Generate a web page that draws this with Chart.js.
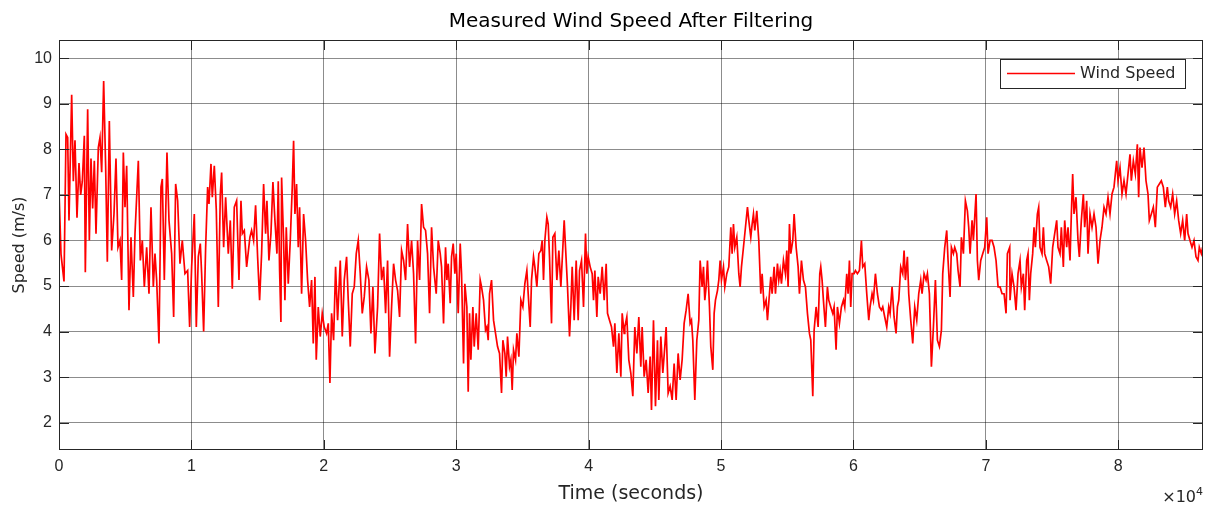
<!DOCTYPE html>
<html>
<head>
<meta charset="utf-8">
<title>Measured Wind Speed After Filtering</title>
<script src="https://cdn.jsdelivr.net/npm/chart.js@4/dist/chart.umd.min.js"></script>
<style>
  body { margin: 0; background: #ffffff; }
  #wrap { position: relative; width: 1211px; height: 506px; }
</style>
</head>
<body>
<div id="wrap"><canvas id="chart1"></canvas></div>
<script>
// time in seconds (x axis is shown in units of 10^4 s)
var timeSec = [
  0,151,378,529,654,755,957,1082,1208,1359,1510,1636,1762,1913,1988,2165,2291,2416,2542,2668,
  2794,2970,3096,3222,3373,3524,3650,3801,3977,4153,4304,4455,4606,4732,4858,4984,5110,5286,5437,5613,
  5739,5991,6142,6293,6444,6620,6796,6947,7123,7249,7375,7551,7702,7803,7954,8155,8306,8508,8659,8810,
  8961,9137,9313,9514,9716,9867,10018,10219,10370,10521,10672,10773,10924,11075,11226,11327,11478,11578,11729,11880,
  12031,12182,12283,12434,12585,12786,12937,13088,13239,13415,13592,13743,13844,13995,14171,14420,
  14546,14697,14848,15000,15150,15302,15453,15604,15704,15855,16006,16157,16308,16459,16560,16661,16761,16812,16963,17063,
  17164,17315,17466,17617,17718,17819,17944,18070,18171,18322,18473,18624,18775,18926,19077,19203,19329,19429,19580,19731,
  19882,20033,20210,20336,20461,20587,20738,20889,21040,21242,21393,21544,21720,21846,21997,22148,22299,22450,22601,22752,
  22903,23054,23230,23406,23557,23708,23859,24061,24212,24363,24514,24665,24816,24967,25118,25269,25420,25571,25722,25873,
  26024,26175,26326,26477,26628,26779,26930,27081,27232,27383,27534,27685,27836,27987,28138,28289,
  28489,28640,28791,28891,29042,29193,29294,29395,29546,29647,29772,29898,29999,30150,30301,30402,30553,30653,30804,30905,
  31006,31106,31257,31358,31509,31660,31811,31912,32063,32214,32315,32415,32516,32667,32818,32969,33120,33271,33422,33523,
  33674,33774,33875,34026,34127,34227,34328,34479,34580,34731,34882,35033,35184,35335,35436,35587,35687,35838,35939,36090,
  36241,36392,36493,36593,36694,36845,36946,37046,37198,37298,37449,37600,37751,37902,38053,38154,38255,38406,38557,38657,
  38758,38909,39060,39211,39312,39463,39614,39765,39866,39966,40117,40268,40369,40470,40621,40721,40872,41023,41174,41325,
  41426,41577,41728,41879,41980,42131,42282,42433,42534,42685,
  42733,42884,43035,43186,43337,43488,43639,43790,43941,44042,44193,44344,44495,44646,44747,44898,45049,45200,45300,45451,
  45602,45753,45854,46005,46156,46307,46458,46609,46760,46911,47062,47213,47364,47515,47666,47767,47868,48019,48170,48321,
  48421,48572,48673,48774,48874,48975,49126,49227,49378,49479,49579,49730,49831,49932,50032,50183,50284,50435,50586,50737,
  50838,50938,51039,51190,51341,51442,51543,51694,51845,51996,52096,52247,52348,52449,52549,52700,52851,53002,53103,53254,
  53405,53506,53657,53757,53858,54009,54110,54261,54362,54462,54563,54714,54865,54966,55066,55167,55268,55419,55520,55671,
  55822,55922,56073,56224,56375,56526,56677,56778,56929,57030,57181,57332,57457,
  57531,57632,57732,57883,58034,58135,58286,58437,58538,58689,58790,58941,59092,59243,59343,59494,59595,59696,59796,59897,
  60048,60149,60300,60451,60602,60702,60854,61005,61156,61256,61407,61508,61659,61810,61961,62112,62213,62364,62515,62666,
  62766,62917,63068,63219,63320,63421,63572,63723,63824,63924,64075,64176,64327,64478,64629,64780,64931,65082,65183,65334,
  65485,65585,65736,65888,66039,66190,66341,66492,66643,66743,66894,67045,67146,67297,67398,67549,67649,67800,67901,68052,
  68153,68304,68455,68606,68706,68807,68958,69059,69260,69361,69462,69613,69764,69915,70066,70166,70317,70468,70619,70770,
  70922,71073,71224,71375,71526,71626,71802,
  71826,71977,72128,72279,72430,72581,72682,72833,72933,73084,73185,73286,73386,73537,73638,73739,73890,73990,74091,74242,
  74343,74443,74594,74745,74896,75047,75199,75350,75450,75601,75702,75853,75954,76105,76205,76356,76457,76558,76658,76809,
  76960,77061,77212,77363,77464,77615,77716,77867,78018,78169,78320,78471,78622,78773,78924,79075,79226,79377,79528,79679,
  79779,79880,79981,80132,80283,80434,80585,80736,80887,80988,81139,81290,81441,81541,81642,81793,81944,82095,82246,82347,
  82498,82649,82800,82951,83102,83253,83404,83555,83706,83807,83958,84109,84260,84411,84562,84713,84864,85015,85166,85267,
  85418,85569,85720,85871,86022,86122,86273,86373
]

// wind speed in m/s at each of those times
var windSpeed = [
  7.1,5.7,5.1,8.33,8.26,6.44,9.2,7.3,8.2,6.5,7.7,7.0,7.3,8.3,5.3,8.88,6.0,7.8,6.7,7.75,
  6.15,8.04,8.26,7.5,9.5,7.6,5.53,8.62,5.78,6.58,7.8,5.85,6.0,5.13,7.93,6.73,7.64,4.47,6.07,4.76,
  6.15,7.75,5.56,6.0,4.98,5.85,4.83,6.73,4.98,5.71,5.13,3.74,7.17,7.35,5.13,7.93,6.44,5.71,4.32,7.24,
  6.87,5.49,6.0,5.27,5.34,4.1,5.42,6.58,4.1,5.64,5.93,5.27,4.0,5.85,7.17,6.8,7.68,6.95,7.64,6.66,
  4.54,7.0,7.49,5.85,6.95,5.71,6.44,4.94,6.73,6.87,5.13,6.87,6.15,6.22,5.42,6.07,
  6.22,6.0,6.77,5.64,4.69,5.71,7.24,6.15,6.87,5.56,6.15,7.28,6.44,5.71,7.3,5.34,4.21,7.38,6.0,4.69,
  6.29,5.05,6.0,7.17,8.19,6.58,7.24,5.85,6.73,4.83,6.58,6.0,5.13,4.54,5.13,3.74,5.2,3.38,4.54,3.89,
  4.4,4.1,3.96,4.18,2.87,4.4,3.81,5.42,4.25,5.56,3.89,5.13,5.64,4.69,3.67,4.83,4.98,5.71,6.0,5.27,
  4.4,4.76,5.42,5.13,3.96,4.98,3.52,4.54,6.15,5.13,5.42,4.4,5.56,3.45,4.54,5.49,5.13,4.9,4.32,5.78,
  5.56,5.13,6.36,5.42,6.0,5.27,3.74,6.0,5.13,6.8,6.29,6.22,5.71,4.4,6.29,5.42,
  4.83,6.0,5.71,5.42,4.18,5.85,5.13,5.49,4.62,5.64,5.93,5.27,5.71,4.4,5.93,5.27,3.3,5.05,4.54,2.68,
  4.4,3.38,4.54,3.67,4.4,3.6,5.13,4.98,4.69,4.03,4.1,3.81,4.83,5.13,4.25,3.96,3.67,3.52,2.65,3.81,
  3.52,3.01,3.89,3.23,3.38,2.72,3.6,3.38,3.96,3.45,4.69,4.54,5.05,5.34,4.83,4.1,5.13,5.64,5.42,4.98,
  5.71,5.78,6.0,5.13,6.0,6.51,6.36,5.64,4.18,6.07,6.15,5.13,5.78,4.98,5.85,6.44,5.85,4.98,3.89,4.54,
  5.42,4.25,5.56,4.25,5.34,5.56,4.54,6.15,5.27,5.64,5.42,5.27,4.69,5.34,4.32,5.2,4.83,5.42,4.69,5.49,
  4.4,4.25,4.1,3.67,4.18,3.09,3.96,3.01,4.4,3.96,
  4.1,4.32,3.38,3.09,2.58,4.1,3.52,4.32,3.23,4.1,3.01,3.38,2.65,3.45,2.28,4.25,2.36,3.81,2.5,3.89,
  3.09,3.67,4.1,2.65,2.8,2.5,3.3,2.5,3.52,2.94,3.38,4.18,4.47,4.83,4.18,4.25,3.81,2.5,3.81,4.25,
  5.56,4.98,5.42,4.69,4.98,5.56,4.54,3.67,3.16,4.4,4.69,4.9,5.13,5.56,5.13,5.42,4.98,5.27,5.42,6.29,
  5.71,6.36,5.85,6.07,5.27,4.98,5.42,5.85,6.29,6.73,6.44,6.07,6.36,6.58,6.22,6.65,6.0,4.83,5.27,4.54,
  4.69,4.25,4.83,5.2,4.83,5.42,4.83,5.49,5.13,5.34,5.05,5.56,5.27,5.78,4.98,6.36,5.71,6.0,6.58,5.85,
  5.42,4.83,5.56,5.13,4.98,4.4,3.96,3.81,2.58,4.03,4.54,4.1,5.27,
  5.42,5.13,4.69,4.1,4.98,4.69,4.54,4.4,4.54,3.6,4.54,4.18,4.54,4.69,4.54,5.27,4.83,5.56,4.54,5.27,
  5.27,5.34,5.27,5.34,6.0,5.42,5.49,4.83,4.25,4.54,4.83,4.69,5.27,4.83,4.54,4.47,4.54,4.32,4.1,4.54,
  4.4,4.98,4.32,3.96,4.54,4.69,5.42,5.27,5.78,5.13,5.64,4.83,4.25,3.74,4.54,4.25,4.83,5.13,4.83,5.27,
  5.13,5.27,4.83,3.23,4.1,5.13,3.81,3.67,4.03,5.27,5.85,6.22,5.56,4.76,5.85,5.71,5.85,5.71,5.34,4.98,
  6.07,5.71,6.87,6.65,6.29,5.71,6.44,6.0,7.02,5.56,5.13,5.56,5.71,5.85,6.51,5.71,6.0,6.0,5.85,5.56,
  4.98,4.98,4.83,4.83,4.4,5.71,5.85,
  4.69,5.27,4.98,4.47,5.27,5.56,4.98,5.27,4.47,5.56,5.71,4.69,5.27,5.71,6.29,5.85,6.58,6.73,5.85,5.71,
  6.29,5.71,5.56,5.42,5.05,5.85,6.15,6.44,5.85,5.71,6.29,5.42,6.44,5.85,6.29,5.56,6.58,7.46,6.58,6.95,
  6.0,5.64,6.44,7.02,6.29,6.87,5.71,6.58,6.29,6.58,6.29,5.49,6.0,6.29,6.73,6.58,6.95,6.58,7.02,7.17,
  7.46,7.75,7.31,7.6,7.02,7.31,7.02,7.46,7.89,7.31,7.75,7.46,8.11,6.95,8.04,7.6,8.04,7.31,7.02,6.44,
  6.58,6.73,6.29,7.17,7.24,7.31,7.17,6.73,7.17,6.87,6.73,7.02,6.58,6.87,6.44,6.15,6.44,6.0,6.58,6.15,
  6.0,5.85,6.0,5.64,5.56,5.85,5.71,5.85
]

var xTicks = [0, 10000, 20000, 30000, 40000, 50000, 60000, 70000, 80000]
var yTicks = [2, 3, 4, 5, 6, 7, 8, 9, 10]
var xRange = [0, 86400]
var yRange = [1.4, 10.4]

var axisColor = '#262626'
var gridColor = 'rgba(0,0,0,0.45)'
var tickFont = '"Liberation Sans", Arial, Helvetica, sans-serif'
var labelFont = '"DejaVu Sans", Verdana, sans-serif'

function buildPoints() {
    var n = Math.min(timeSec.length, windSpeed.length)
    var pts = []
    for (let i = 0; i < n; i++) {
        pts.push({ x: timeSec[i], y: windSpeed[i] })
    }
    return pts
}

// MATLAB style: box round the axes, inward ticks on all sides, legend in the corner, x10^4 note
const matlabAxes = {
    id: 'matlabAxes',
    afterDraw(chart) {
        const ctx = chart.ctx
        const a = chart.chartArea
        const xs = chart.scales.x
        const ys = chart.scales.y
        ctx.save()
        ctx.strokeStyle = axisColor
        ctx.lineWidth = 1
        ctx.beginPath()
        xTicks.forEach(function(v) {
            var px = Math.round(xs.getPixelForValue(v)) + 0.5
            ctx.moveTo(px, a.bottom); ctx.lineTo(px, a.bottom - 10)
            ctx.moveTo(px, a.top); ctx.lineTo(px, a.top + 10)
        })
        yTicks.forEach(function(v) {
            var py = Math.round(ys.getPixelForValue(v)) + 0.5
            ctx.moveTo(a.left, py); ctx.lineTo(a.left + 10, py)
            ctx.moveTo(a.right, py); ctx.lineTo(a.right - 10, py)
        })
        ctx.stroke()
        ctx.strokeRect(Math.round(a.left) + 0.5, Math.round(a.top) + 0.5,
            Math.round(a.right - a.left) - 1, Math.round(a.bottom - a.top) - 1)

        // legend box
        var ds = chart.data.datasets[0]
        var lx = a.right - 203, ly = a.top + 19, lw = 185, lh = 29
        ctx.fillStyle = '#ffffff'
        ctx.fillRect(lx, ly, lw, lh)
        ctx.strokeStyle = axisColor
        ctx.strokeRect(lx + 0.5, ly + 0.5, lw, lh)
        ctx.beginPath()
        ctx.strokeStyle = ds.borderColor
        ctx.lineWidth = 1.6
        ctx.moveTo(lx + 7, ly + 14.5)
        ctx.lineTo(lx + 75, ly + 14.5)
        ctx.stroke()
        ctx.fillStyle = axisColor
        ctx.font = '16px ' + labelFont
        ctx.textBaseline = 'middle'
        ctx.textAlign = 'left'
        ctx.fillText(ds.label, lx + 80, ly + 15)

        // exponent note under the x axis
        ctx.textAlign = 'right'
        ctx.textBaseline = 'alphabetic'
        ctx.font = '11px ' + labelFont
        ctx.fillText('4', a.right, 495)
        var w4 = ctx.measureText('4').width
        ctx.font = '16px ' + labelFont
        ctx.fillText('\u00d710', a.right - w4, 502)
        ctx.restore()
    }
}

window.onload = () => {
    const ctx = document.getElementById("chart1").getContext("2d")
    window.myLine = new Chart(ctx, {
        type: 'line',
        data: {
            datasets: [{
                label: 'Wind Speed',
                data: buildPoints(),
                borderColor: '#ff0000',
                borderWidth: 1.7,
                pointRadius: 0,
                tension: 0,
                fill: false
            }]
        },
        options: {
            responsive: true,
            maintainAspectRatio: false,
            animation: false,
            layout: { padding: { left: 0, right: 8, top: 0, bottom: 0 } },
            plugins: {
                legend: { display: false },
                tooltip: { enabled: false },
                title: {
                    display: true,
                    fullSize: false,
                    text: 'Measured Wind Speed After Filtering',
                    color: '#000000',
                    font: { family: labelFont, size: 20, weight: 'normal' },
                    padding: { top: 10, bottom: 6 }
                }
            },
            scales: {
                x: {
                    type: 'linear',
                    min: xRange[0],
                    max: xRange[1],
                    afterBuildTicks: function(scale) {
                        scale.ticks = xTicks.map(function(v) { return { value: v } })
                    },
                    afterFit: function(scale) { scale.height = 56 },
                    ticks: {
                        color: axisColor,
                        padding: 7,
                        maxRotation: 0,
                        font: { family: tickFont, size: 16 },
                        callback: function(v) { return v / 10000 }
                    },
                    grid: { color: gridColor, drawTicks: false },
                    border: { display: false },
                    title: {
                        display: true,
                        text: 'Time (seconds)',
                        color: axisColor,
                        font: { family: labelFont, size: 19 },
                        padding: { top: 0, bottom: 0.6 }
                    }
                },
                y: {
                    type: 'linear',
                    min: yRange[0],
                    max: yRange[1],
                    afterBuildTicks: function(scale) {
                        scale.ticks = yTicks.map(function(v) { return { value: v } })
                    },
                    afterFit: function(scale) { scale.width = 59 },
                    ticks: {
                        color: axisColor,
                        padding: 7,
                        font: { family: tickFont, size: 16 }
                    },
                    grid: { color: gridColor, drawTicks: false },
                    border: { display: false },
                    title: {
                        display: true,
                        text: 'Speed (m/s)',
                        color: axisColor,
                        font: { family: labelFont, size: 16 },
                        padding: { top: 10, bottom: 0 }
                    }
                }
            }
        },
        plugins: [matlabAxes]
    })
}
</script>
</body>
</html>
